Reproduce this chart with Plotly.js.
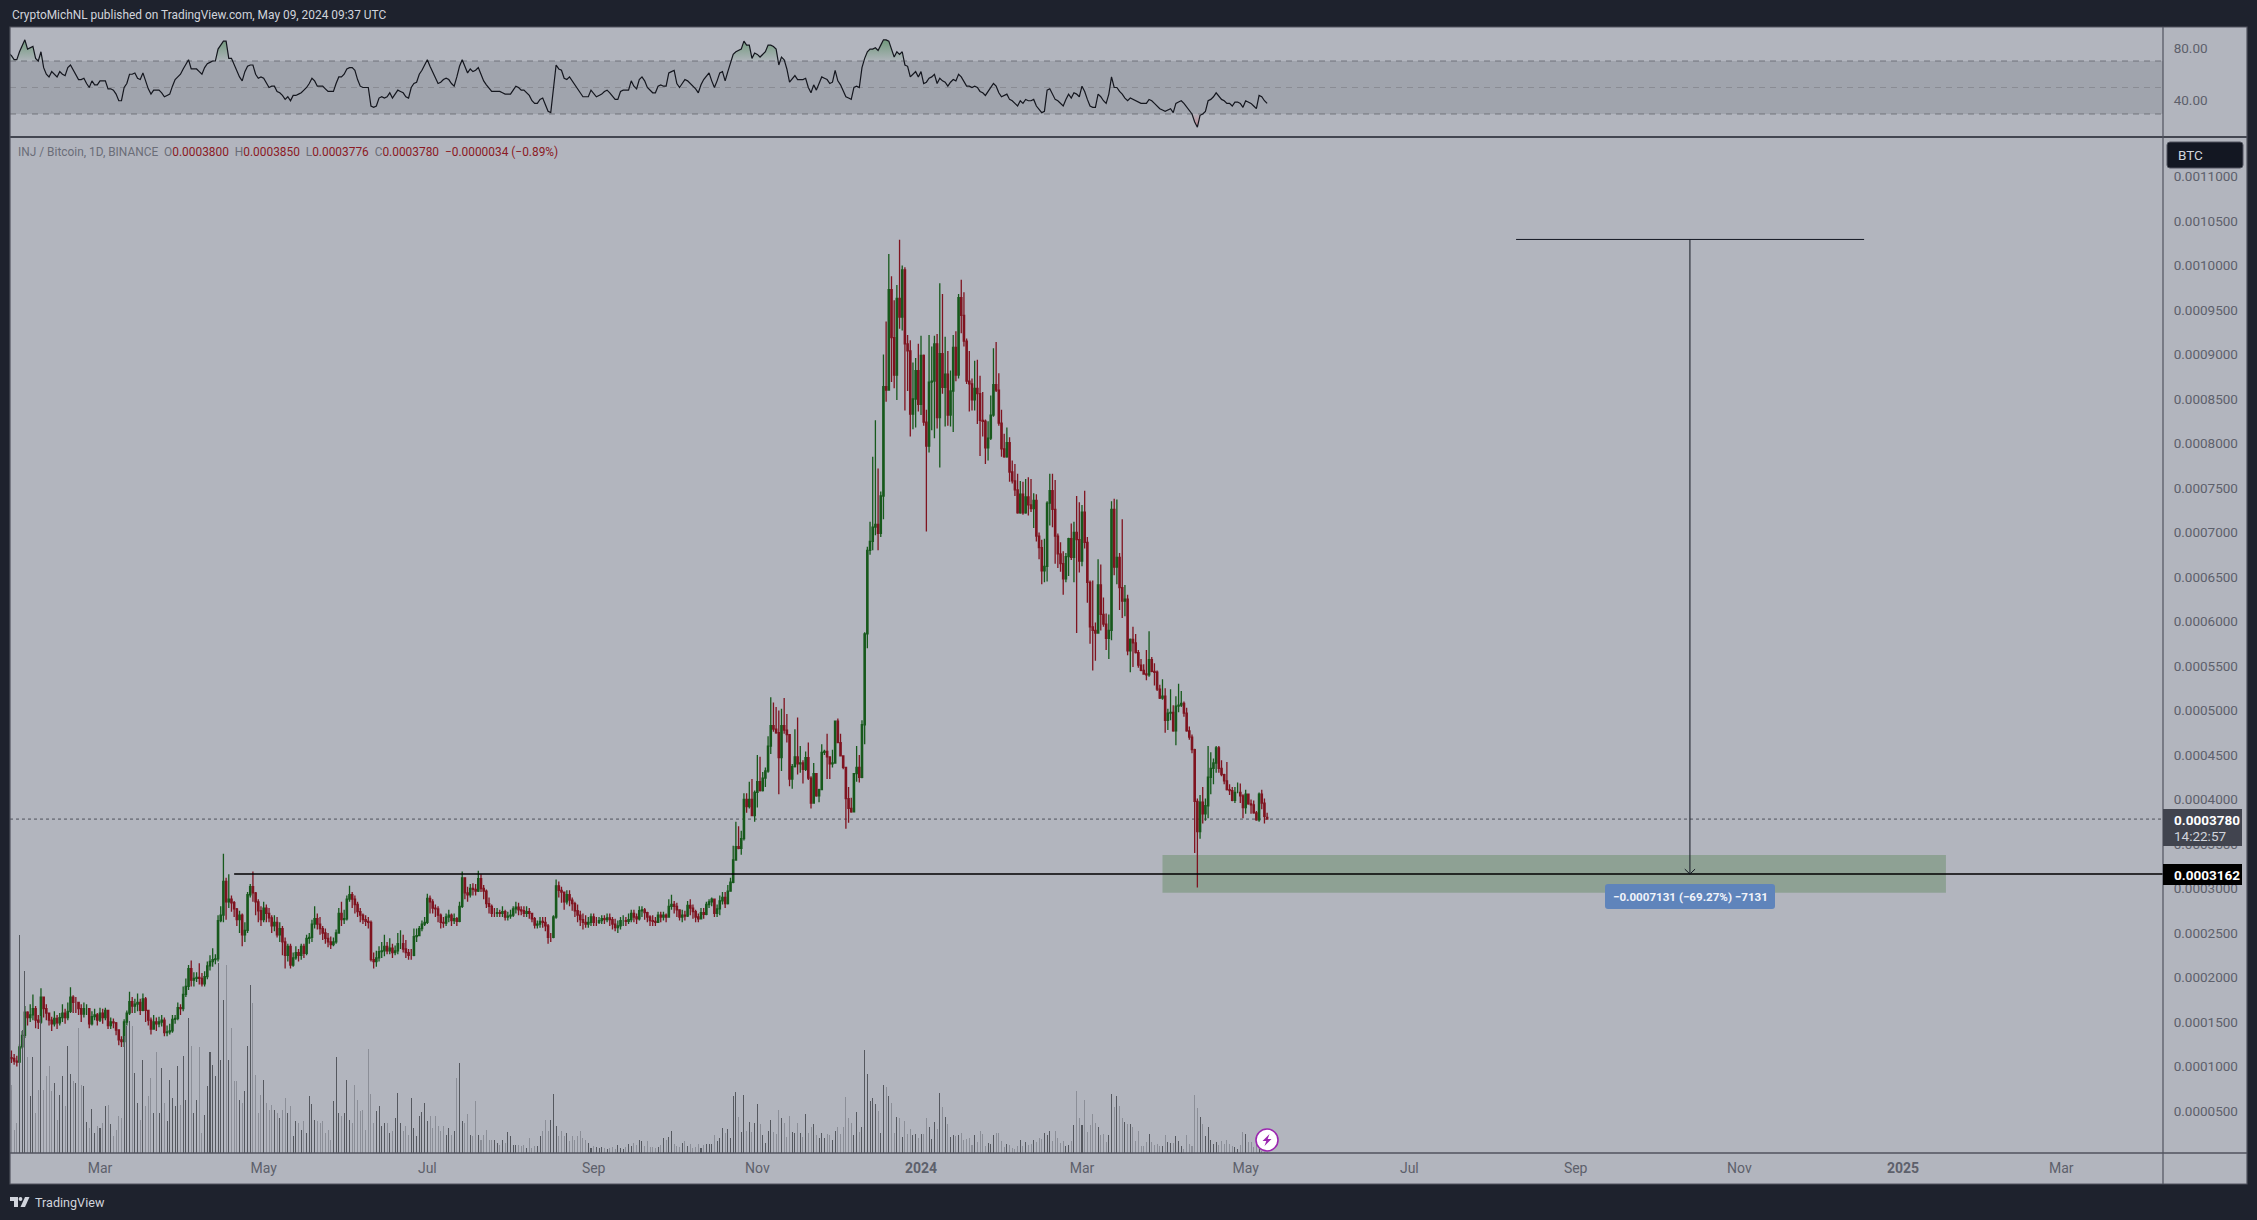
<!DOCTYPE html>
<html><head><meta charset="utf-8">
<script src="https://cdn.plot.ly/plotly-3.0.1.min.js"></script>
<style>html,body{margin:0;padding:0;background:#1e222d;overflow:hidden}#chart{width:2257px;height:1220px}</style>
</head><body><div id="chart"></div>
<script>
// prices are in millionths of BTC
const priceUnit = 1e-6;
const firstDay = '2023-01-26';
const opens = [113,110,109,106,105,122,135,161,155,158,
165,152,150,178,165,160,152,148,154,149,
155,160,155,162,178,172,172,165,159,165,
165,148,156,158,152,160,155,163,146,150,
149,141,130,128,150,160,173,168,170,172,
163,176,163,152,142,150,148,150,152,138,
139,140,153,154,166,165,181,190,210,197,
199,200,199,193,201,213,218,220,221,264,
270,308,285,288,284,277,265,270,248,253,
293,302,295,285,275,265,278,272,267,258,
262,248,255,240,225,235,214,222,228,225,
235,227,244,245,260,266,260,255,250,244,
240,237,240,250,272,265,266,288,293,288,
282,274,270,265,263,262,220,218,222,229,
230,235,230,233,228,230,238,238,232,228,
225,225,246,247,255,260,262,289,285,278,
277,270,262,261,268,270,264,266,263,280,
312,295,293,300,299,297,311,300,297,283,
280,272,272,273,272,274,268,269,270,277,
279,276,275,272,274,272,266,259,260,263,
262,258,245,245,268,303,298,296,285,293,
287,283,275,270,265,262,260,262,268,262,
262,264,266,265,267,265,260,256,258,264,
264,263,265,272,268,266,275,276,273,268,
264,263,262,270,268,270,268,280,282,280,
276,268,270,269,281,278,274,268,266,273,
271,282,285,288,272,277,286,290,283,297,
307,332,347,345,356,400,392,400,382,408,
420,410,424,432,460,483,479,475,447,483,
478,473,423,437,448,440,441,434,447,424,
396,429,404,411,453,454,448,440,441,488,
464,449,436,401,390,386,429,436,425,484,
586,680,690,706,709,699,741,864,860,973,
919,877,963,942,995,912,904,833,850,882,
844,899,824,797,869,870,912,829,901,863,
878,832,859,908,877,964,944,915,870,867,
849,862,856,826,825,795,806,832,866,860,
823,794,785,801,768,758,748,722,743,722,
740,731,727,736,696,683,657,662,733,747,
726,696,676,665,648,673,693,672,700,692,
668,723,689,644,594,590,587,641,608,597,
581,590,726,661,672,638,623,625,567,580,
576,565,551,545,541,540,557,544,543,524,
514,516,489,497,498,477,505,506,508,497,
477,470,456,398,364,397,384,393,425,435,
441,458,435,428,421,411,410,399,408,408,
404,391,406,395,394,385,377,406,396,380];
const highs = [122,118,114,112,125,140,168,162,170,181,
168,158,188,178,170,160,156,162,158,160,
170,165,172,189,180,178,172,170,172,170,
165,162,165,160,166,165,166,163,155,154,
150,141,134,153,163,184,178,176,182,176,
182,178,163,155,158,155,156,158,155,146,
148,158,158,172,170,190,199,214,219,206,
206,216,205,207,218,225,233,226,270,280,
339,312,316,292,286,278,275,272,262,296,
305,319,296,288,280,285,282,278,270,270,
268,262,258,245,238,238,228,235,232,238,
238,248,250,265,280,272,268,258,255,250,
246,245,254,278,285,276,292,303,296,292,
285,278,272,270,268,264,228,230,235,240,
248,240,244,238,236,250,253,248,242,232,
232,255,255,258,264,268,294,292,288,282,
280,272,268,272,276,272,272,268,285,319,
312,302,305,306,305,320,316,304,299,290,
282,278,278,276,280,276,274,276,280,285,
284,280,280,280,278,272,268,264,268,268,
268,260,250,270,310,308,302,296,298,298,
290,285,282,275,272,270,268,272,272,268,
268,270,270,272,272,268,266,264,268,270,
268,272,276,276,272,280,280,278,274,270,
270,268,274,274,274,272,288,293,286,284,
276,276,275,286,288,282,276,272,278,278,
285,288,290,288,282,292,296,296,304,312,
348,375,370,365,407,407,420,423,410,450,
448,431,436,471,515,509,504,500,502,514,
496,467,440,479,492,460,444,454,464,426,
441,428,412,462,456,474,447,456,488,491,
474,449,436,414,402,429,460,450,489,588,
684,712,785,826,772,746,900,937,1013,988,
961,978,1029,1000,998,922,916,891,896,912,
921,900,838,922,909,921,923,980,968,920,
904,882,922,926,968,984,970,918,904,873,
893,894,876,858,827,825,854,907,914,879,
838,811,818,807,781,777,766,758,757,760,
762,760,744,743,700,692,693,735,766,766,
759,699,689,679,677,694,710,712,741,734,
731,747,695,646,646,599,670,664,627,609,
608,735,738,737,677,715,641,630,581,594,
586,568,558,552,568,589,560,553,545,529,
535,525,502,524,506,516,530,522,510,503,
482,473,457,401,405,414,401,460,453,446,
460,460,444,429,442,417,414,414,419,418,
406,411,406,400,399,387,408,411,401,385];
const lows = [96,104,102,100,104,120,132,146,150,152,
143,142,148,155,152,146,140,145,142,146,
150,148,152,160,160,160,158,150,155,158,
143,146,152,146,150,148,152,142,142,143,
135,124,122,122,146,158,160,160,162,158,
162,150,146,136,142,140,144,145,134,134,
136,138,148,152,158,162,178,186,190,190,
195,192,190,190,198,208,212,215,218,262,
262,265,278,274,268,258,250,235,240,250,
290,285,270,262,258,262,262,262,250,252,
245,240,225,210,218,210,212,220,218,220,
222,225,238,240,255,254,248,242,238,234,
232,235,238,250,258,260,264,285,278,272,
268,262,260,258,255,218,210,212,218,222,
224,226,226,222,225,226,232,228,222,220,
220,224,240,248,252,258,260,272,272,268,
262,255,256,258,262,258,260,258,262,278,
288,285,290,292,292,296,296,288,278,272,
268,268,268,268,268,264,264,266,268,272,
270,270,268,268,266,262,255,255,256,256,
252,238,240,244,266,290,284,276,282,280,
275,268,262,258,254,256,256,258,258,258,
260,260,260,262,258,254,252,250,254,258,
258,260,262,262,260,264,268,265,262,258,
258,258,262,262,264,262,268,276,272,268,
264,262,264,268,270,266,262,262,266,266,
270,278,280,268,268,270,282,278,282,300,
306,332,344,338,354,385,390,382,375,391,
409,409,414,430,451,476,474,406,432,474,
464,415,412,436,428,430,418,432,422,390,
396,403,397,411,450,423,423,436,442,464,
449,434,367,374,385,386,420,419,424,462,
570,675,680,697,680,695,715,847,860,869,
862,849,929,927,837,859,808,816,818,836,
832,820,701,790,815,806,817,773,856,819,
820,819,813,870,873,924,909,867,836,837,
837,822,786,808,777,781,804,830,858,820,
785,784,784,757,755,741,721,721,720,721,
719,723,705,690,670,642,644,645,708,706,
665,660,656,630,644,651,669,644,587,655,
662,682,621,575,545,556,587,590,594,568,
558,579,652,642,613,604,606,562,543,549,
564,548,544,541,534,538,543,528,522,513,
512,475,478,489,476,461,498,504,493,476,
467,452,340,301,356,373,376,379,406,417,
430,430,426,417,410,405,398,396,407,396,
379,384,394,384,384,376,375,389,373,377.6];
const closes = [110,109,106,105,122,135,161,155,158,165,
152,150,178,165,160,152,148,154,149,155,
160,155,162,178,172,172,165,159,165,165,
148,156,158,152,160,155,163,146,150,149,
141,130,128,150,160,173,168,170,172,163,
176,163,152,142,150,148,150,152,138,139,
140,153,154,166,165,181,190,210,197,199,
200,199,193,201,213,218,220,221,264,270,
308,285,288,284,277,265,270,248,253,293,
302,295,285,275,265,278,272,267,258,262,
248,255,240,225,235,214,222,228,225,235,
227,244,245,260,266,260,255,250,244,240,
237,240,250,272,265,266,288,293,288,282,
274,270,265,263,262,220,218,222,229,230,
235,230,233,228,230,238,238,232,228,225,
225,246,247,255,260,262,289,285,278,277,
270,262,261,268,270,264,266,263,280,312,
295,293,300,299,297,311,300,297,283,280,
272,272,273,272,274,268,269,270,277,279,
276,275,272,274,272,266,259,260,263,262,
258,245,245,268,303,298,296,285,293,287,
283,275,270,265,262,260,262,268,262,262,
264,266,265,267,265,260,256,258,264,264,
263,265,272,268,266,275,276,273,268,264,
263,262,270,268,270,268,280,282,280,276,
268,270,269,281,278,274,268,266,273,271,
282,285,288,272,277,286,290,283,297,307,
332,347,345,356,400,392,400,382,408,420,
410,424,432,460,483,479,475,447,483,478,
473,423,437,448,440,441,434,447,424,396,
429,404,411,453,454,448,440,441,488,464,
449,436,401,390,386,429,436,425,484,586,
680,690,706,709,699,741,864,860,973,919,
877,963,942,995,912,904,833,850,882,844,
899,824,797,869,870,912,829,901,863,878,
832,859,908,877,964,944,915,870,867,849,
862,856,826,825,795,806,832,866,860,823,
794,785,801,768,758,748,722,743,722,740,
731,727,736,696,683,657,662,733,747,726,
696,676,665,648,673,693,672,700,692,668,
723,689,644,594,590,587,641,608,597,581,
590,726,661,672,638,623,625,567,580,576,
565,551,545,541,540,557,544,543,524,514,
516,489,497,498,477,505,506,508,497,477,
470,456,398,364,397,384,393,425,435,441,
458,435,428,421,411,410,399,408,408,404,
391,406,395,394,385,377,406,396,381,378];
const volumes = [133,68,23,30,218,123,182,96,57,96,
40,63,137,63,77,87,62,70,33,58,
77,47,107,79,72,70,125,68,67,31,
25,44,20,27,25,30,47,48,29,17,
23,37,35,117,127,132,127,80,50,33,
93,47,57,75,40,101,40,85,50,32,
73,55,47,87,48,97,53,135,107,40,
53,106,20,38,67,101,88,77,190,93,
153,188,93,125,72,72,53,50,62,107,
168,150,78,40,58,73,50,43,48,43,
40,35,43,55,40,47,17,32,30,23,
32,20,57,49,33,32,30,32,20,23,
13,52,96,40,37,40,73,33,30,68,
53,42,43,23,104,59,30,42,47,27,
30,30,20,22,35,60,30,22,27,18,
55,25,17,37,41,50,32,37,25,37,
27,22,27,18,25,18,22,75,90,32,
30,39,18,17,52,18,13,18,23,13,
13,13,10,8,13,10,21,17,8,8,
8,7,8,5,15,5,7,7,17,22,
33,22,33,59,27,17,22,17,20,12,
17,13,17,22,15,13,10,5,7,6,
5,6,5,4,5,6,4,8,5,4,
6,9,7,10,8,13,12,7,12,6,
6,5,6,8,15,13,16,22,9,7,
6,10,12,7,9,5,6,9,5,8,
9,9,9,18,12,15,25,20,24,15,
57,61,36,21,58,22,31,21,30,49,
29,18,10,22,33,21,19,43,35,30,
16,37,21,20,30,20,16,39,20,26,
29,18,15,20,15,19,18,13,22,26,
19,26,56,35,30,18,41,21,26,103,
79,52,55,49,42,20,68,66,57,50,
20,36,35,16,32,19,24,18,19,15,
19,19,35,26,14,31,24,60,46,36,
29,16,18,17,18,20,13,14,15,8,
18,11,22,19,7,10,9,18,20,20,
12,6,9,8,5,4,7,13,7,11,
8,9,13,11,15,14,20,18,22,12,
22,15,10,12,7,8,12,28,62,35,
28,53,21,28,39,30,26,18,19,11,
18,59,46,57,47,35,31,29,29,26,
12,22,7,7,11,19,11,8,9,7,
7,18,11,10,10,17,12,7,4,18,
9,7,58,45,36,29,17,26,13,9,
11,8,12,9,13,9,7,6,4,8,
21,19,11,11,6,8,4,2,1,1];
const rsiValues = [76,74,71,71,77,82,86,79,80,81,
72,70,77,65,60,58,62,60,58,62,
60,59,65,67,63,60,56,56,57,53,
50,55,52,52,55,55,55,49,49,48,
45,40,40,50,53,60,60,61,57,56,
61,55,49,45,48,48,48,46,43,44,
45,51,56,58,60,64,68,71,64,64,
64,62,60,65,68,69,70,70,79,82,
85,85,72,72,67,63,58,55,62,66,
67,67,60,57,58,57,53,50,51,51,
47,46,44,41,43,40,44,44,45,46,
48,50,53,57,55,51,51,51,49,47,
47,47,53,58,58,60,64,65,65,63,
56,51,50,50,50,36,35,36,42,43,
42,43,46,42,45,48,47,46,43,42,
50,53,54,60,63,67,71,66,62,58,
53,54,56,57,56,53,51,58,66,71,
66,61,64,62,63,65,60,55,52,49,
47,47,47,47,46,45,45,45,48,51,
50,48,48,46,44,40,38,38,41,42,
37,32,31,51,67,64,63,57,56,58,
55,51,48,45,43,43,43,48,45,43,
44,45,47,48,46,43,41,41,47,48,
48,48,55,51,49,56,58,55,50,48,
46,46,51,52,51,51,61,62,63,53,
50,53,56,55,53,51,49,46,52,56,
59,61,55,50,55,61,62,55,62,68,
75,77,78,79,85,82,82,72,76,75,
73,75,77,82,82,81,79,67,73,71,
64,54,57,59,56,56,56,57,50,46,
52,48,53,58,57,56,53,54,63,55,
52,48,43,42,41,50,51,50,65,72,
77,79,79,80,78,82,86,86,85,79,
73,77,75,77,67,66,58,60,62,58,
62,53,54,57,58,60,53,57,55,54,
51,54,56,55,60,58,55,51,51,50,
51,50,47,46,44,47,50,53,51,46,
43,44,45,41,40,38,36,40,38,41,
40,40,41,36,33,31,32,48,49,45,
41,40,38,36,41,45,42,46,45,43,
51,47,41,36,35,35,45,43,40,38,
45,58,50,50,47,45,42,40,42,41,
40,39,38,38,38,41,40,38,36,34,
33,32,33,34,31,38,39,40,38,35,
33,30,24,20,29,30,32,40,41,43,
46,43,41,40,38,38,36,39,39,38,
35,40,39,38,36,34,44,43,40,38];
const monthTicks = ['2023-03-01','2023-05-01','2023-07-01','2023-09-01','2023-11-01','2024-01-01','2024-03-01','2024-05-01','2024-07-01','2024-09-01','2024-11-01','2025-01-01','2025-03-01'];
const monthLabels = ['Mar','May','Jul','Sep','Nov','<b>2024</b>','Mar','May','Jul','Sep','Nov','<b>2025</b>','Mar'];
const priceTicks = [0.00005,0.0001,0.00015,0.0002,0.00025,0.0003,0.00035,0.0004,0.00045,0.0005,0.00055,0.0006,0.00065,0.0007,0.00075,0.0008,0.00085,0.0009,0.00095,0.001,0.00105,0.0011];
const rsiTicks = [40,80];
const xRange = ['2023-01-26 11:00','2025-04-07 21:36'];
const priceRange = [0.0000028,0.0011444];
const volumeRange = [0,1016];
const rsiRange = [12.6,95.7];
const rsiBand = [30,50,70];
const lastPrice = 0.000378;
const levelPrice = 0.0003162;
const levelStart = '2023-04-20';
const zoneDates = ['2024-03-31','2025-01-17'];
const zonePrices = [0.0002953,0.0003376];
const measureTop = 0.0010293;
const measureDate = '2024-10-13 14:00';
const measureCap = ['2024-08-09 19:00','2024-12-17 12:00'];
const arrowDates = ['2024-10-11 16:00','2024-10-15 12:00'];
const arrowPrice = 0.0003218;

const C = {page:'#1e222d',panel:'#b2b5be',line:'#50535e',sep:'#1e222d',text:'#5d606b',up:'#17591c',down:'#7f1420',volUp:'#55585f',volDown:'#8b8e97'};
const FONT = 'Roboto, "Open Sans", sans-serif';
const W = 2257, H = 1220;
const px = x => x / W, py = y => 1 - y / H;

const days = opens.map((_, i) => {
  const d = new Date(Date.parse(firstDay + 'T00:00:00Z') + i * 86400000);
  return d.toISOString().slice(0, 10);
});
const toPrice = a => a.map(v => v * priceUnit);

const candles = {type:'candlestick',x:days,open:toPrice(opens),high:toPrice(highs),low:toPrice(lows),close:toPrice(closes),xaxis:'x',yaxis:'y',
  increasing:{line:{color:C.up,width:1.3},fillcolor:C.up},decreasing:{line:{color:C.down,width:1.3},fillcolor:C.down},whiskerwidth:0,hoverinfo:'skip',showlegend:false};
const volumeBars = {type:'bar',x:days,y:volumes,xaxis:'x',yaxis:'y2',width:days.map(()=>0.38*86400000),
  marker:{color:closes.map((c,i)=>c>=opens[i]?C.volUp:C.volDown),line:{width:0}},hoverinfo:'skip',showlegend:false};
const flat = v => days.map(()=>v);
const rsiGrad = (col,start,stop) => ({type:'vertical',start,stop,colorscale:[[0,`rgba(${col},0.6)`],[1,`rgba(${col},0.03)`]]});
const rsiTraces = [
  {type:'scatter',mode:'lines',x:days,y:flat(70),xaxis:'x2',yaxis:'y3',line:{width:0},hoverinfo:'skip',showlegend:false},
  {type:'scatter',mode:'lines',x:days,y:rsiValues.map(r=>Math.max(r,70)),xaxis:'x2',yaxis:'y3',line:{width:0},fill:'tonexty',fillgradient:rsiGrad('56,130,66',88,70),hoverinfo:'skip',showlegend:false},
  {type:'scatter',mode:'lines',x:days,y:flat(30),xaxis:'x2',yaxis:'y3',line:{width:0},hoverinfo:'skip',showlegend:false},
  {type:'scatter',mode:'lines',x:days,y:rsiValues.map(r=>Math.min(r,30)),xaxis:'x2',yaxis:'y3',line:{width:0},fill:'tonexty',fillgradient:rsiGrad('210,90,100',18,30),hoverinfo:'skip',showlegend:false},
  {type:'scatter',mode:'lines',x:days,y:rsiValues,xaxis:'x2',yaxis:'y3',line:{color:'#14161e',width:1.2},hoverinfo:'skip',showlegend:false}
];

const paperRect = (x0,y0,x1,y1,o) => Object.assign({type:'rect',xref:'paper',yref:'paper',x0:px(x0),x1:px(x1),y0:py(y1),y1:py(y0),line:{width:0}},o);
const paperLine = (x0,y0,x1,y1,color,width) => ({type:'line',xref:'paper',yref:'paper',x0:px(x0),x1:px(x1),y0:py(y0),y1:py(y1),line:{color,width},layer:'above'});
const round = (x0,y0,x1,y1,r) => {
  const P=(x,y)=>px(x)+','+py(y);
  return `M${P(x0+r,y0)}L${P(x1-r,y0)}Q${P(x1,y0)} ${P(x1,y0+r)}L${P(x1,y1-r)}Q${P(x1,y1)} ${P(x1-r,y1)}L${P(x0+r,y1)}Q${P(x0,y1)} ${P(x0,y1-r)}L${P(x0,y0+r)}Q${P(x0,y0)} ${P(x0+r,y0)}Z`;
};
const poly = pts => 'M'+pts.map(p=>px(p[0])+','+py(p[1])).join('L')+'Z';
const paperPath = (path,fill,lineColor,lineWidth) => ({type:'path',xref:'paper',yref:'paper',path,fillcolor:fill,line:{color:lineColor||fill,width:lineWidth||0},layer:'above'});

const shapes = [
  paperRect(10,27,2247,1184,{fillcolor:C.panel,layer:'below'}),
  {type:'rect',xref:'x2',yref:'y3',x0:xRange[0],x1:xRange[1],y0:rsiBand[0],y1:rsiBand[2],fillcolor:'rgba(70,72,85,0.16)',line:{width:0},layer:'below'},
  {type:'line',xref:'x2',yref:'y3',x0:xRange[0],x1:xRange[1],y0:rsiBand[2],y1:rsiBand[2],line:{color:'#71737c',width:1,dash:'6px,5px'},layer:'below'},
  {type:'line',xref:'x2',yref:'y3',x0:xRange[0],x1:xRange[1],y0:rsiBand[1],y1:rsiBand[1],line:{color:'#8a8c94',width:1,dash:'6px,5px'},layer:'below'},
  {type:'line',xref:'x2',yref:'y3',x0:xRange[0],x1:xRange[1],y0:rsiBand[0],y1:rsiBand[0],line:{color:'#71737c',width:1,dash:'6px,5px'},layer:'below'},
  {type:'rect',xref:'x',yref:'y',x0:zoneDates[0],x1:zoneDates[1],y0:zonePrices[0],y1:zonePrices[1],fillcolor:'rgba(74,123,71,0.35)',line:{width:0},layer:'below'},
  {type:'line',xref:'x',yref:'y',x0:xRange[0],x1:xRange[1],y0:lastPrice,y1:lastPrice,line:{color:'#4f525c',width:1,dash:'dot'},layer:'below'},
  {type:'line',xref:'x',yref:'y',x0:levelStart,x1:xRange[1],y0:levelPrice,y1:levelPrice,line:{color:'#000000',width:1.5}},
  {type:'line',xref:'x',yref:'y',x0:measureCap[0],x1:measureCap[1],y0:measureTop,y1:measureTop,line:{color:'#131722',width:1}},
  {type:'line',xref:'x',yref:'y',x0:measureDate,x1:measureDate,y0:levelPrice,y1:measureTop,line:{color:'#131722',width:1}},
  {type:'line',xref:'x',yref:'y',x0:arrowDates[0],x1:measureDate,y0:arrowPrice,y1:levelPrice,line:{color:'#131722',width:1}},
  {type:'line',xref:'x',yref:'y',x0:arrowDates[1],x1:measureDate,y0:arrowPrice,y1:levelPrice,line:{color:'#131722',width:1}},
  paperLine(10,137,2247,137,C.sep,1.6),
  paperLine(2163,27,2163,1184,C.line,1.2),
  paperLine(10,1153,2247,1153,C.line,1.4),
  paperRect(10,27,2247,1184,{line:{color:C.line,width:1.2},fillcolor:'rgba(0,0,0,0)',layer:'above'}),
  paperPath(round(2167,142,2243,168,3),'#131722','#50535e',1),
  paperPath(poly([[2163,809],[2242,809],[2242,846],[2163,846]]),'#41444f'),
  paperPath(poly([[2163,864],[2242,864],[2242,885],[2163,885]]),'#000000'),
  paperPath(round(1605,884,1775,909,3),'#5f84bb'),
  // publisher mark
  paperPath(poly([[10,1197],[18,1197],[18,1207],[14,1207],[14,1201],[10,1201]]),'#d1d4dc'),
  {type:'circle',xref:'paper',yref:'paper',x0:px(18.6),x1:px(22.4),y0:py(1201),y1:py(1197),fillcolor:'#d1d4dc',line:{width:0},layer:'above'},
  paperPath(poly([[25,1197],[29.5,1197],[25,1207],[20.5,1207]]),'#d1d4dc'),
  // lightning badge
  {type:'circle',xref:'paper',yref:'paper',x0:px(1256),x1:px(1278),y0:py(1151),y1:py(1129),fillcolor:'#ffffff',line:{color:'#9c27b0',width:1.6},layer:'above'},
  paperPath(poly([[1269.5,1134],[1262.5,1141],[1266.3,1141],[1264.5,1146],[1271.5,1139],[1267.7,1139]]),'#9c27b0')
];

const label = (x,y,text,size,color,extra) => Object.assign({xref:'paper',yref:'paper',x:px(x),y:py(y),xanchor:'left',yanchor:'middle',text,showarrow:false,align:'left',font:{family:FONT,size,color}},extra||{});
const v = s => `<span style="color:#8b1a24">${s}</span>`;
const annotations = [
  label(10,15,'CryptoMichNL published on TradingView.com, May 09, 2024 09:37 UTC',11.9,'#d1d4dc'),
  label(16,152,`INJ / Bitcoin, 1D, BINANCE  O${v('0.0003800')}  H${v('0.0003850')}  L${v('0.0003776')}  C${v('0.0003780')}  ${v('−0.0000034 (−0.89%)')}`,11.9,'#6a6d78'),
  label(2176,155,'BTC',13.5,'#d1d4dc'),
  label(2172,820,'<b>0.0003780</b>',13.5,'#ffffff'),
  label(2172,836,'14:22:57',13.5,'#d1d4dc'),
  label(2172,875,'<b>0.0003162</b>',13.5,'#ffffff'),
  label(1690,896.5,'<b>−0.0007131 (−69.27%) −7131</b>',11.6,'#f0f3fa',{xanchor:'center'}),
  label(33,1202,'TradingView',12.6,'#d1d4dc')
];

const layout = {
  width:W,height:H,autosize:false,margin:{l:0,r:0,t:0,b:0,pad:0},showlegend:false,
  paper_bgcolor:C.page,plot_bgcolor:C.panel,hovermode:false,dragmode:false,boxgap:0.3,bargap:0,
  xaxis:{type:'date',domain:[px(10),px(2163)],range:xRange,anchor:'y',tickmode:'array',tickvals:monthTicks,ticktext:monthLabels,
    tickfont:{family:FONT,size:14,color:C.text},ticks:'outside',ticklen:2,tickcolor:'rgba(0,0,0,0)',showgrid:false,zeroline:false,showline:false,rangeslider:{visible:false},tickangle:0},
  xaxis2:{type:'date',domain:[px(10),px(2163)],range:xRange,anchor:'y3',matches:'x',visible:false,showgrid:false,zeroline:false},
  yaxis:{domain:[py(1153),py(137)],range:priceRange,side:'right',anchor:'x',tickmode:'array',tickvals:priceTicks,tickformat:'.7f',
    tickfont:{family:FONT,size:13.5,color:C.text},ticks:'outside',ticklen:7,tickcolor:'rgba(0,0,0,0)',showgrid:false,zeroline:false,showline:false},
  yaxis2:{domain:[py(1153),py(137)],range:volumeRange,overlaying:'y',side:'left',visible:false,showgrid:false,zeroline:false},
  yaxis3:{domain:[py(137),py(27)],range:rsiRange,side:'right',anchor:'x2',tickmode:'array',tickvals:rsiTicks,tickformat:'.2f',
    tickfont:{family:FONT,size:13.5,color:C.text},ticks:'outside',ticklen:7,tickcolor:'rgba(0,0,0,0)',showgrid:false,zeroline:false,showline:false},
  shapes,annotations
};
Plotly.newPlot('chart',[candles,volumeBars].concat(rsiTraces),layout,{displayModeBar:false,staticPlot:true,responsive:false});
</script></body></html>
